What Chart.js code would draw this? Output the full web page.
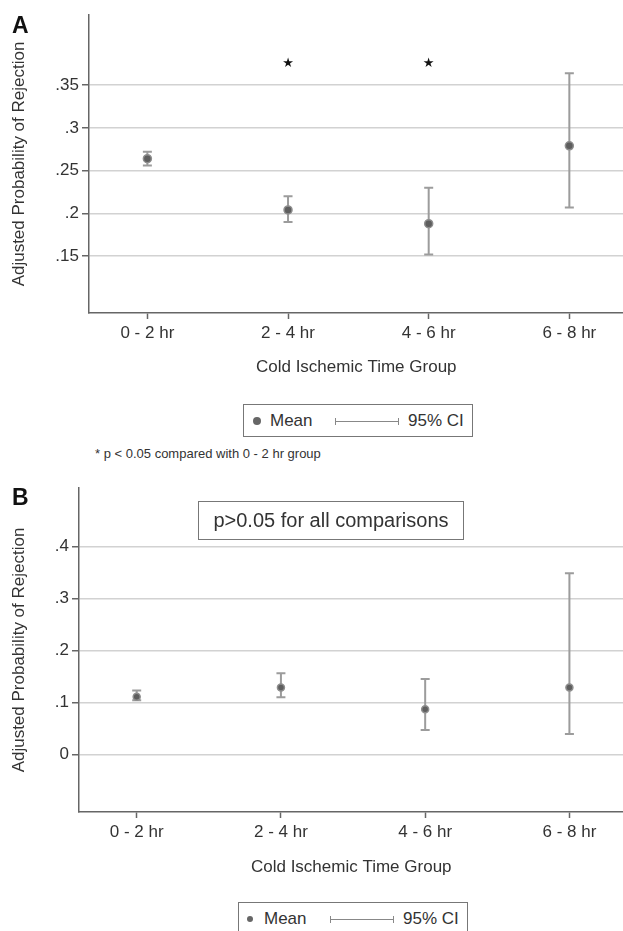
<!DOCTYPE html>
<html>
<head>
<meta charset="utf-8">
<script src="https://cdn.jsdelivr.net/npm/chart.js@4"></script>
<style>
  body { margin: 0; background: #fff; width: 623px; height: 931px; position: relative; overflow: hidden;
         font-family: "Liberation Sans", Arial, sans-serif; color: #333; }
  canvas { position: absolute; left: 0; }
  .letter { position: absolute; left: 12px; font-weight: bold; font-size: 23px; color: #111; }
  .legend { position: absolute; width: 228px; height: 31px; border: 1.5px solid #777; background: #fff; }
  .legend .dot { position: absolute; left: 9px; top: 12px; width: 8px; height: 8px; border-radius: 50%; background: #666; }
  .legend .lbl { position: absolute; top: 6px; font-size: 17px; color: #333; }
  .legend .ci { position: absolute; left: 91px; top: 16px; width: 64px; border-top: 1px solid #888; }
  .legend .ci:before, .legend .ci:after { content: ""; position: absolute; top: -4px; height: 7px; border-left: 1px solid #888; }
  .legend .ci:before { left: 0; }
  .legend .ci:after { right: 0; }
  .note { position: absolute; left: 95px; top: 446px; font-size: 13px; color: #333; }
  .pbox { position: absolute; left: 198px; top: 501px; width: 264px; height: 37px; border: 1.5px solid #777;
          font-size: 20px; line-height: 37px; text-align: center; color: #333; }
</style>
</head>
<body>
<canvas id="chartA" width="629" height="390" style="top:0"></canvas>
<canvas id="chartB" width="629" height="420" style="top:470px"></canvas>

<div class="letter" style="top:12px">A</div>
<div class="legend" style="left:243px; top:404px">
  <div class="dot"></div><div class="lbl" style="left:26px">Mean</div>
  <div class="ci"></div><div class="lbl" style="left:164px">95% CI</div>
</div>
<div class="note">* p &lt; 0.05 compared with 0 - 2 hr group</div>

<div class="letter" style="top:484px">B</div>
<div class="pbox">p&gt;0.05 for all comparisons</div>
<div class="legend" style="left:238px; top:902px">
  <div class="dot" style="width:6px;height:6px;top:13px;left:8px"></div><div class="lbl" style="left:25px">Mean</div>
  <div class="ci"></div><div class="lbl" style="left:164px">95% CI</div>
</div>

<script>
// categorie
const groups = ['0 - 2 hr', '2 - 4 hr', '4 - 6 hr', '6 - 8 hr'];

// pannello A
const meanA = [0.264, 0.204, 0.188, 0.279];
const lowA = [0.256, 0.190, 0.152, 0.207];
const highA = [0.272, 0.220, 0.230, 0.364];
const starA = [false, true, true, false];
const starLevelA = 0.375;
const tickValsA = [0.15, 0.2, 0.25, 0.3, 0.35];
const tickLabelsA = ['.15', '.2', '.25', '.3', '.35'];

// pannello B
const meanB = [0.111, 0.129, 0.087, 0.129];
const lowB = [0.104, 0.110, 0.047, 0.039];
const highB = [0.123, 0.156, 0.145, 0.349];
const tickValsB = [0, 0.1, 0.2, 0.3, 0.4];
const tickLabelsB = ['0', '.1', '.2', '.3', '.4'];

const FONT = '"Liberation Sans", Arial, sans-serif';

// barre di errore (IC 95%) e asterischi
const errorBars = {
  id: 'errorBars',
  beforeDatasetsDraw(chart, args, opts) {
    const ctx = chart.ctx;
    const x = chart.scales.x, y = chart.scales.y;
    ctx.save();
    ctx.strokeStyle = '#9c9c9c';
    ctx.lineWidth = 2;
    opts.low.forEach(function(lo, i) {
      const px = x.getPixelForValue(i);
      const y1 = y.getPixelForValue(lo);
      const y2 = y.getPixelForValue(opts.high[i]);
      ctx.beginPath();
      ctx.moveTo(px, y1); ctx.lineTo(px, y2);
      ctx.moveTo(px - 4.5, y1); ctx.lineTo(px + 4.5, y1);
      ctx.moveTo(px - 4.5, y2); ctx.lineTo(px + 4.5, y2);
      ctx.stroke();
    });
    if (opts.stars) {
      ctx.fillStyle = '#111';
      ctx.font = '13px "DejaVu Sans"';
      ctx.textAlign = 'center';
      ctx.textBaseline = 'middle';
      opts.stars.forEach(function(s, i) {
        if (s) ctx.fillText('★', x.getPixelForValue(i), y.getPixelForValue(opts.starLevel));
      });
    }
    ctx.restore();
  }
};

function makeChart(id, p) {
  const ctx = document.getElementById(id).getContext('2d');
  return new Chart(ctx, {
    type: 'scatter',
    data: {
      datasets: [{
        label: 'Mean',
        data: p.mean.map(function(v, i) { return { x: i, y: v }; }),
        pointRadius: p.radius,
        pointBackgroundColor: '#5e5e5e',
        pointBorderColor: '#8e8e8e',
        pointBorderWidth: 1.5
      }]
    },
    options: {
      responsive: false,
      animation: false,
      layout: { padding: { top: p.top, left: 0, right: 0, bottom: 0 } },
      plugins: {
        legend: { display: false },
        tooltip: { enabled: false },
        errorBars: { low: p.low, high: p.high, stars: p.stars, starLevel: p.starLevel }
      },
      scales: {
        x: {
          type: 'linear',
          min: p.xMin,
          max: p.xMax,
          afterBuildTicks: function(s) { s.ticks = groups.map(function(g, i) { return { value: i }; }); },
          afterFit: function(s) { s.height = p.xHeight; },
          ticks: {
            callback: function(v, i) { return groups[i]; },
            color: '#333', font: { size: 17, family: FONT }, padding: 4, maxRotation: 0, autoSkip: false
          },
          grid: { drawOnChartArea: false, drawTicks: true, tickLength: 6, tickColor: '#666', tickWidth: 1.5 },
          border: { color: '#666', width: 1.5 },
          title: { display: true, text: 'Cold Ischemic Time Group', color: '#333',
                   font: { size: 17, family: FONT }, padding: { top: 0, bottom: 12 } }
        },
        y: {
          min: p.yMin,
          max: p.yMax,
          afterBuildTicks: function(s) { s.ticks = p.tickVals.map(function(v) { return { value: v }; }); },
          afterFit: function(s) { s.width = p.yWidth; },
          ticks: {
            callback: function(v, i) { return p.tickLabels[i]; },
            color: '#333', font: { size: 17, family: FONT }, padding: 3
          },
          grid: { color: '#d2d2d2', lineWidth: 1.5, drawTicks: true, tickLength: 7, tickColor: '#666', tickWidth: 1.5 },
          border: { color: '#666', width: 1.5 },
          title: { display: true, text: 'Adjusted Probability of Rejection', color: '#333',
                   font: { size: 17, family: FONT }, padding: { top: 9, bottom: 0 } }
        }
      }
    },
    plugins: [errorBars]
  });
}

makeChart('chartA', {
  mean: meanA, low: lowA, high: highA, stars: starA, starLevel: starLevelA,
  tickVals: tickValsA, tickLabels: tickLabelsA,
  xMin: -0.415, xMax: 3.385, yMin: 0.0835, yMax: 0.432,
  top: 15, xHeight: 77, yWidth: 89, radius: 4
});

makeChart('chartB', {
  mean: meanB, low: lowB, high: highB, stars: null,
  tickVals: tickValsB, tickLabels: tickLabelsB,
  xMin: -0.40, xMax: 3.375, yMin: -0.111, yMax: 0.513,
  top: 18, xHeight: 78, yWidth: 79, radius: 3.5
});
</script>
</body>
</html>
